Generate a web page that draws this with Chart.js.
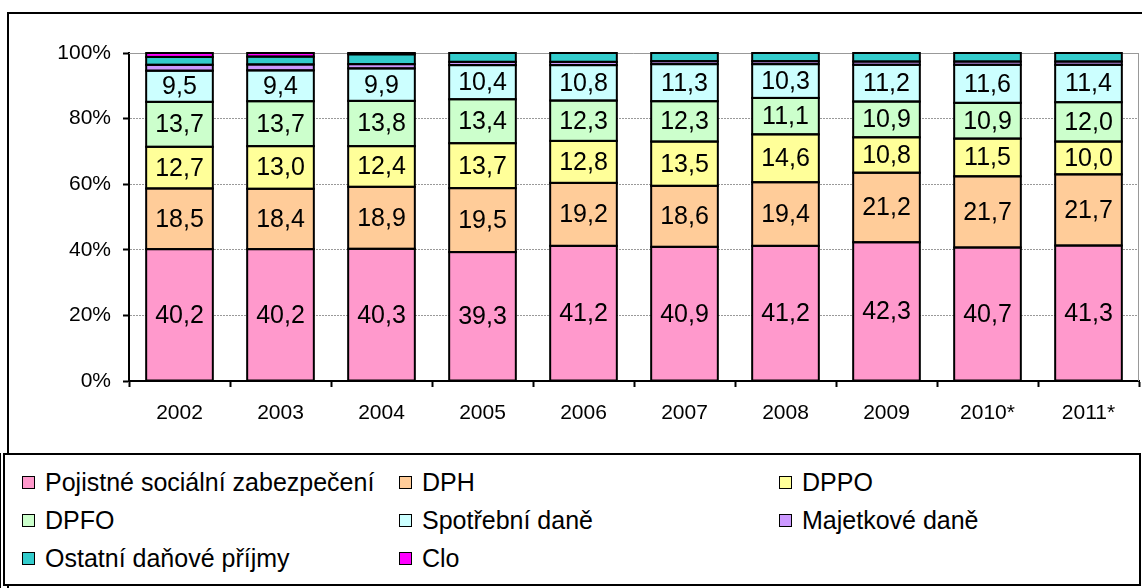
<!DOCTYPE html>
<html>
<head>
<meta charset="utf-8">
<script src="https://cdn.jsdelivr.net/npm/chart.js@4"></script>
<style>
  body { margin: 0; background: #fff; font-family: 'Liberation Sans', Arial, sans-serif; }
  #frame { position: absolute; left: 7px; top: 12px; width: 1140px; height: 580px; border: 2px solid #000; box-sizing: border-box; }
  #wrap { position: absolute; left: 0; top: 0; width: 1142px; height: 453px; }
  #legendEdge { position: absolute; left: 0; top: 453px; width: 1px; height: 135px; background: #000; }
  #legend { position: absolute; left: 3px; top: 453px; width: 1138px; height: 133px; border: 2px solid #000; box-sizing: border-box; background: #fff; }
  .item { position: absolute; font-size: 25px; line-height: 28px; color: #000; white-space: nowrap; }
  .box { position: absolute; left: 0; top: 8px; width: 13px; height: 13px; border: 1.5px solid #000; box-sizing: border-box; }
  .txt { position: absolute; left: 23px; top: 0; }
</style>
</head>
<body>
<div id="frame"></div>
<div id="wrap"><canvas id="taxChart"></canvas></div>
<div id="legendEdge"></div>
<div id="legend"></div>
<script>
const years = ['2002', '2003', '2004', '2005', '2006', '2007', '2008', '2009', '2010*', '2011*'];

const pojistne  = [40.2, 40.2, 40.3, 39.3, 41.2, 40.9, 41.2, 42.3, 40.7, 41.3];
const dph       = [18.5, 18.4, 18.9, 19.5, 19.2, 18.6, 19.4, 21.2, 21.7, 21.7];
const dppo      = [12.7, 13.0, 12.4, 13.7, 12.8, 13.5, 14.6, 10.8, 11.5, 10.0];
const dpfo      = [13.7, 13.7, 13.8, 13.4, 12.3, 12.3, 11.1, 10.9, 10.9, 12.0];
const spotrebni = [9.5, 9.4, 9.9, 10.4, 10.8, 11.3, 10.3, 11.2, 11.6, 11.4];
const majetkove = [1.8, 1.8, 1.3, 1.0, 1.0, 0.9, 0.9, 1.0, 1.0, 1.0];
const ostatni   = [2.4, 2.4, 3.0, 2.7, 2.7, 2.5, 2.5, 2.6, 2.6, 2.6];
const clo       = [1.2, 1.1, 0.4, 0, 0, 0, 0, 0, 0, 0];

const seriesNames = ['Pojistné sociální zabezpečení', 'DPH', 'DPPO', 'DPFO',
  'Spotřební daně', 'Majetkové daně', 'Ostatní daňové příjmy', 'Clo'];
const seriesColors = ['#FF99CC', '#FFCC99', '#FFFF99', '#CCFFCC',
  '#CCFFFF', '#CC99FF', '#33CCCC', '#FF00FF'];
const seriesValues = [pojistne, dph, dppo, dpfo, spotrebni, majetkove, ostatni, clo];
const labelledSeries = 5; // only the big ones carry numbers

const fontFamily = "'Liberation Sans', Arial, sans-serif";

// black 2px outline centred on every segment edge (chart.js borders sit inside the bar)
const segmentOutline = {
  id: 'segmentOutline',
  afterDatasetsDraw(chart) {
    const ctx = chart.ctx;
    ctx.save();
    ctx.strokeStyle = '#000';
    ctx.lineWidth = 2;
    chart.data.datasets.forEach((ds, d) => {
      chart.getDatasetMeta(d).data.forEach((bar, i) => {
        if (!ds.data[i]) return;
        const p = bar.getProps(['x', 'y', 'base', 'width'], true);
        ctx.strokeRect(p.x - p.width / 2, p.y, p.width, p.base - p.y);
      });
    });
    ctx.restore();
  }
};

// numbers inside the segments, czech decimal comma
const segmentLabels = {
  id: 'segmentLabels',
  afterDatasetsDraw(chart) {
    const ctx = chart.ctx;
    ctx.save();
    ctx.font = '25px ' + fontFamily;
    ctx.fillStyle = '#000';
    ctx.textAlign = 'center';
    ctx.textBaseline = 'middle';
    for (let d = 0; d < labelledSeries; d++) {
      const meta = chart.getDatasetMeta(d);
      meta.data.forEach((bar, i) => {
        const v = chart.data.datasets[d].data[i];
        const y = (bar.y + bar.base) / 2 + 1;
        ctx.fillText(v.toFixed(1).replace('.', ','), bar.x, y);
      });
    }
    ctx.restore();
  }
};

// grey frame on top and right side of the plot area
const plotFrame = {
  id: 'plotFrame',
  beforeDatasetsDraw(chart) {
    const a = chart.chartArea;
    const ctx = chart.ctx;
    ctx.save();
    ctx.strokeStyle = '#999';
    ctx.lineWidth = 1;
    ctx.beginPath();
    ctx.moveTo(a.left, a.top + 0.5);
    ctx.lineTo(a.right - 0.5, a.top + 0.5);
    ctx.lineTo(a.right - 0.5, a.bottom);
    ctx.stroke();
    ctx.restore();
  }
};

const datasets = seriesNames.map((name, k) => ({
  label: name,
  data: seriesValues[k],
  backgroundColor: seriesColors[k],
  borderWidth: 0,
  barPercentage: 0.66,
  categoryPercentage: 1.0
}));

new Chart(document.getElementById('taxChart'), {
  type: 'bar',
  data: { labels: years, datasets: datasets },
  plugins: [plotFrame, segmentOutline, segmentLabels],
  options: {
    responsive: true,
    maintainAspectRatio: false,
    animation: false,
    layout: { padding: { top: 53, right: 3, left: 0, bottom: 0 } },
    plugins: {
      legend: { display: false },
      tooltip: { enabled: false }
    },
    scales: {
      x: {
        stacked: true,
        afterFit: scale => { scale.height = 72; },
        grid: { drawOnChartArea: false, drawTicks: true, tickLength: 6, tickColor: '#000', tickWidth: 2 },
        border: { color: '#000', width: 2 },
        ticks: { color: '#000', padding: 14, font: { size: 21, family: fontFamily } }
      },
      y: {
        stacked: true,
        min: 0,
        max: 100,
        afterFit: scale => { scale.width = 129; },
        grid: { color: '#999', lineWidth: 1, tickLength: 6, tickColor: '#000', tickWidth: 2 },
        border: { color: '#000', width: 2, dash: [2, 1] },
        ticks: {
          stepSize: 20,
          color: '#000',
          padding: 12,
          font: { size: 21, family: fontFamily },
          callback: v => v + '%'
        }
      }
    }
  }
});

// legend laid out in three fixed columns like the original
const legendCols = [17, 394, 774];
const legendRows = [13, 51, 89];
const legendEl = document.getElementById('legend');
seriesNames.forEach((name, k) => {
  const item = document.createElement('div');
  item.className = 'item';
  item.style.left = legendCols[k % 3] + 'px';
  item.style.top = legendRows[Math.floor(k / 3)] + 'px';
  item.innerHTML = '<span class="box" style="background:' + seriesColors[k] + '"></span>' +
    '<span class="txt">' + name + '</span>';
  legendEl.appendChild(item);
});
</script>
</body>
</html>
